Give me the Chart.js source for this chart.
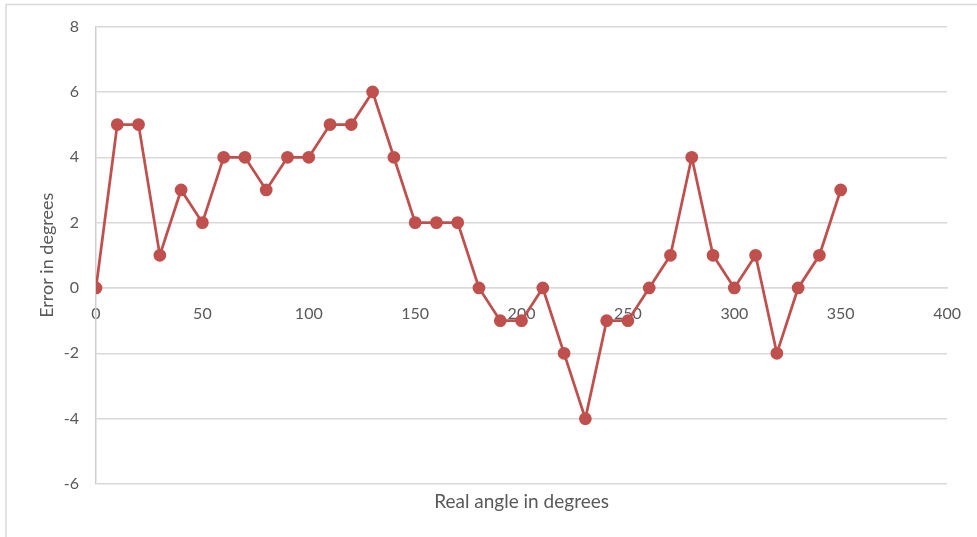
<!DOCTYPE html>
<html>
<head>
<meta charset="utf-8">
<script src="https://cdn.jsdelivr.net/npm/chart.js@4.4.1/dist/chart.umd.min.js"></script>
<style>
  html, body { margin: 0; padding: 0; background: #fff; }
  #wrap { width: 977px; height: 537px; position: relative; }
</style>
</head>
<body>
<div id="wrap"><canvas id="c"></canvas></div>
<script>
// data
var angles = [0, 10, 20, 30, 40, 50, 60, 70, 80, 90, 100, 110, 120, 130, 140, 150, 160, 170,
              180, 190, 200, 210, 220, 230, 240, 250, 260, 270, 280, 290, 300, 310, 320, 330, 340, 350];
var errors = [0, 5, 5, 1, 3, 2, 4, 4, 3, 4, 4, 5, 5, 6, 4, 2, 2, 2,
              0, -1, -1, 0, -2, -4, -1, -1, 0, 1, 4, 1, 0, 1, -2, 0, 1, 3];
var xTitle = 'Real angle in degrees';
var yTitle = 'Error in degrees';

var FONT = 'Lato, "Open Sans", sans-serif';
var TXT = '#595959';
var GRID = '#d9d9d9';
var RED = '#c0504d';

// outer frame + bottom axis title
var decor = {
  id: 'decor',
  beforeDraw: function (chart) {
    var ctx = chart.ctx;
    ctx.save();
    ctx.fillStyle = '#fff';
    ctx.fillRect(0, 0, chart.width, chart.height);
    ctx.strokeStyle = GRID;
    ctx.lineWidth = 1.5;
    ctx.strokeRect(6, 4.5, chart.width + 10, chart.height + 10);
    ctx.restore();
  },
  afterDraw: function (chart) {
    var ctx = chart.ctx, a = chart.chartArea;
    ctx.save();
    ctx.font = '19px ' + FONT;
    ctx.fillStyle = TXT;
    ctx.textAlign = 'center';
    ctx.textBaseline = 'middle';
    ctx.fillText(xTitle, (a.left + a.right) / 2, a.bottom + 18);
    ctx.restore();
  }
};

var points = angles.map(function (a, i) { return { x: a, y: errors[i] }; });

new Chart(document.getElementById('c'), {
  type: 'scatter',
  data: {
    datasets: [{
      data: points,
      showLine: true,
      borderColor: RED,
      backgroundColor: RED,
      borderWidth: 2.75,
      pointRadius: 5,
      pointHoverRadius: 5,
      tension: 0
    }]
  },
  options: {
    responsive: true,
    maintainAspectRatio: false,
    animation: false,
    layout: { padding: { left: 0, top: 26, right: 26, bottom: 53 } },
    plugins: {
      legend: { display: false },
      tooltip: { enabled: false }
    },
    scales: {
      x: {
        type: 'linear',
        position: { y: 0 },
        min: 0,
        max: 400,
        ticks: { stepSize: 50, padding: 16, color: TXT, font: { family: FONT, size: 16 } },
        grid: { display: false, drawTicks: false },
        border: { display: true, color: GRID, width: 1.5 }
      },
      y: {
        min: -6,
        max: 8,
        ticks: { stepSize: 2, padding: 17, color: TXT, font: { family: FONT, size: 16 } },
        grid: { color: GRID, lineWidth: 1.5, drawTicks: false },
        border: { display: true, color: '#cfcfcf', width: 1.5 },
        title: {
          display: true,
          text: yTitle,
          color: TXT,
          font: { family: FONT, size: 18 },
          padding: { top: 36, bottom: 0 }
        },
        afterFit: function (scale) { scale.width = 96; }
      }
    }
  },
  plugins: [decor]
});
</script>
</body>
</html>
